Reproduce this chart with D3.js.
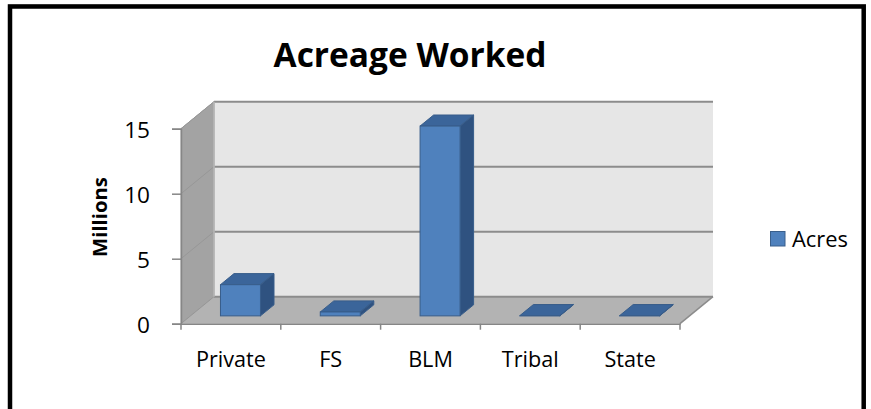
<!DOCTYPE html>
<html>
<head>
<meta charset="utf-8">
<script src="https://cdn.jsdelivr.net/npm/d3@7"></script>
<style>
  body { margin: 0; background: #fff; }
  svg { display: block; font-family: "Open Sans", Lato, sans-serif; }
</style>
</head>
<body>
<svg id="chart" width="871" height="409"></svg>
<script>
// chart data
const categories = ["Private", "FS", "BLM", "Tribal", "State"];
const acres = [2.4, 0.3, 14.6, 0.02, 0.02]; // millions
const yTicks = [0, 5, 10, 15];
const seriesName = "Acres";

const svg = d3.select("#chart");

// 3d offsets: front plane -> back wall
const depth = { dx: 33, dy: -27 };
const barZ0 = 0.29, barZ1 = 0.70; // bar depth, as share of floor depth
const barW = 40;

const x = d3.scaleBand().domain(categories).range([181, 680]).padding(0);
const y = d3.scaleLinear().domain([0, 15]).range([323.7, 128.7]);

const pts = p => p.map(d => d.join(",")).join(" ");
const off = (px, py, t) => [px + depth.dx * t, py + depth.dy * t];

// scale font so the text gets a given width (Calibri is not installed)
function fitSize(sel, width) {
    const fs = +sel.attr("font-size");
    const w = sel.node().getComputedTextLength();
    const size = fs * width / w;
    sel.attr("font-size", size);
    return size;
}

// frame
svg.append("rect").attr("x", 8.5).attr("y", 4.5).attr("width", 857).attr("height", 420)
    .attr("fill", "none").attr("stroke", "#c8c8c8").attr("stroke-width", 1);
svg.append("rect").attr("x", 10).attr("y", 6.5).attr("width", 853.7).attr("height", 420)
    .attr("fill", "none").attr("stroke", "#000").attr("stroke-width", 4.5);

const x0 = x.range()[0], x1 = x.range()[1];
const yTop = y(15), yBot = y(0);

// walls
svg.append("polygon").attr("points", pts([off(x0, yTop, 1), off(x1, yTop, 1), off(x1, yBot, 1), off(x0, yBot, 1)]))
    .attr("fill", "#e6e6e6");
svg.append("polygon").attr("points", pts([[x0, yTop], off(x0, yTop, 1), off(x0, yBot, 1), [x0, yBot]]))
    .attr("fill", "#a3a3a3").attr("stroke", "#9a9a9a").attr("stroke-width", 1);
svg.append("polygon").attr("points", pts([[x0, yBot], [x1, yBot], off(x1, yBot, 1), off(x0, yBot, 1)]))
    .attr("fill", "#b3b3b3");

// gridlines (back wall + side wall)
const grid = svg.append("g").attr("stroke", "#8c8c8c").attr("fill", "none");
yTicks.forEach(t => {
    const b0 = off(x0, y(t), 1), b1 = off(x1, y(t), 1);
    grid.append("line").attr("x1", b0[0]).attr("y1", b0[1]).attr("x2", b1[0]).attr("y2", b1[1])
        .attr("stroke-width", 2);
    grid.append("line").attr("x1", x0).attr("y1", y(t)).attr("x2", b0[0]).attr("y2", b0[1])
        .attr("stroke", "#979797").attr("stroke-width", 1);
});
grid.append("line").attr("x1", off(x0, yTop, 1)[0]).attr("y1", off(x0, yTop, 1)[1])
    .attr("x2", off(x0, yBot, 1)[0]).attr("y2", off(x0, yBot, 1)[1]).attr("stroke", "#b8b8b8").attr("stroke-width", 1.5);
// floor right edge
grid.append("line").attr("x1", x1).attr("y1", yBot).attr("x2", off(x1, yBot, 1)[0]).attr("y2", off(x1, yBot, 1)[1])
    .attr("stroke", "#8c8c8c").attr("stroke-width", 1.5);

// bars
const bars = svg.append("g").selectAll("g").data(categories.map((c, i) => ({ c, v: acres[i] })))
    .join("g");
bars.each(function (d) {
    const g = d3.select(this);
    const cx = x(d.c) + x.bandwidth() / 2;
    const [fx, fyB] = off(cx - barW / 2, y(0), barZ0);
    const fyT = off(0, y(d.v), barZ0)[1];
    const bdx = depth.dx * (barZ1 - barZ0), bdy = depth.dy * (barZ1 - barZ0);
    const stroke = "#385d8a";
    // top
    g.append("polygon").attr("points", pts([[fx, fyT], [fx + barW, fyT], [fx + barW + bdx, fyT + bdy], [fx + bdx, fyT + bdy]]))
        .attr("fill", "#3b659a").attr("stroke", stroke).attr("stroke-width", 1);
    // side
    g.append("polygon").attr("points", pts([[fx + barW, fyT], [fx + barW + bdx, fyT + bdy], [fx + barW + bdx, fyB + bdy], [fx + barW, fyB]]))
        .attr("fill", "#2f5280").attr("stroke", stroke).attr("stroke-width", 1);
    // front
    g.append("rect").attr("x", fx).attr("y", fyT).attr("width", barW).attr("height", fyB - fyT)
        .attr("fill", "#4f81bd").attr("stroke", stroke).attr("stroke-width", 1);
});

// axes
const xAxis = svg.append("g").attr("transform", `translate(0,${yBot})`)
    .call(d3.axisBottom(x).tickSize(0).tickPadding(28))
    .attr("font-family", null);
xAxis.select(".domain").attr("stroke", "#868686").attr("stroke-width", 1.5);
xAxis.selectAll("text").attr("font-size", 20).attr("fill", "#000");
const labelSize = fitSize(xAxis.selectAll("text").filter(d => d === "Private"), 70);
xAxis.selectAll("text").attr("font-size", labelSize);
// category boundary ticks
xAxis.append("g").selectAll("line").data(d3.range(categories.length + 1))
    .join("line").attr("x1", i => x0 + i * x.step()).attr("x2", i => x0 + i * x.step())
    .attr("y1", 0).attr("y2", 6).attr("stroke", "#868686").attr("stroke-width", 1.5);

const yAxis = svg.append("g").attr("transform", `translate(${x0},0)`)
    .call(d3.axisLeft(y).tickValues(yTicks).tickSize(9).tickPadding(22))
    .attr("font-family", null);
yAxis.select(".domain").attr("stroke", "#868686").attr("stroke-width", 1.5);
yAxis.selectAll(".tick line").attr("stroke", "#868686").attr("stroke-width", 1.5);
yAxis.selectAll("text").attr("font-size", labelSize + 1).attr("fill", "#000").attr("dy", "0.4em");

// title
const title = svg.append("text").attr("x", 410).attr("y", 67).attr("text-anchor", "middle")
    .attr("font-size", 32).attr("font-weight", "bold").text("Acreage Worked");
fitSize(title, 273);

// y axis title
const yTitle = svg.append("text").attr("transform", "translate(107,217) rotate(-90)").attr("text-anchor", "middle")
    .attr("font-size", 19).attr("font-weight", "bold").text("Millions");
fitSize(yTitle, 80);

// legend
svg.append("rect").attr("x", 770.5).attr("y", 231.5).attr("width", 14.5).attr("height", 14.5)
    .attr("fill", "#4f81bd").attr("stroke", "#3a5f8b").attr("stroke-width", 1);
const legText = svg.append("text").attr("x", 792).attr("y", 246.5).attr("font-size", 22).text(seriesName);
fitSize(legText, 56);
</script>
</body>
</html>
